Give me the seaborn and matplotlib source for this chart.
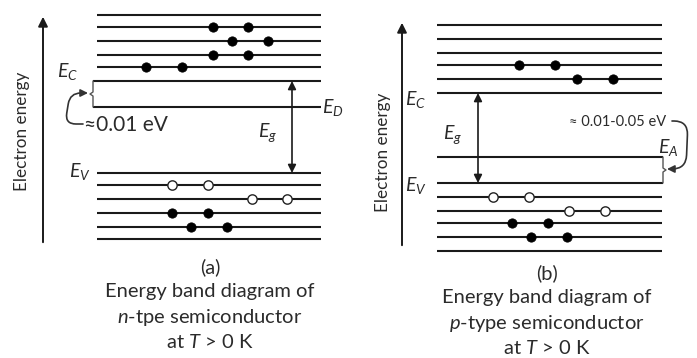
import matplotlib
matplotlib.use("Agg")
import matplotlib.pyplot as plt
import numpy as np
import pandas as pd
import seaborn as sns

# ---- data (diagram units = pixels of the 697x358 picture, y grows downward) ----
# panel (a): n-type
a_x0, a_x1 = 97, 321
a_cond_levels = [15, 27, 41, 55, 67]
a_ec, a_ed, a_ev = 81, 107, 173
a_val_levels = [185, 199, 213, 227, 239]
a_electrons_x = [213, 248, 232, 268, 213, 248, 146, 182, 172, 208, 191, 227]
a_electrons_y = [27, 27, 41, 41, 55, 55, 67, 67, 213, 213, 227, 227]
a_holes_x = [172, 208, 252, 287]
a_holes_y = [185, 185, 199, 199]

# panel (b): p-type
b_x0, b_x1 = 437, 662
b_cond_levels = [25, 39, 53, 65, 79]
b_ec, b_ea, b_ev = 93, 157, 183
b_val_levels = [197, 211, 223, 237, 251]
b_electrons_x = [519, 555, 577, 613, 512, 548, 531, 567]
b_electrons_y = [65, 65, 79, 79, 223, 223, 237, 237]
b_holes_x = [493, 529, 569, 605]
b_holes_y = [197, 197, 211, 211]

caption_a = ["(a)", "Energy band diagram of", "$\\it{n}$-tpe semiconductor", "at $\\it{T}$ > 0 K"]
caption_b = ["(b)", "Energy band diagram of", "$\\it{p}$-type semiconductor", "at $\\it{T}$ > 0 K"]

sns.set_theme(style="white")
plt.rcParams["font.family"] = ["Lato", "DejaVu Sans"]
plt.rcParams["mathtext.fontset"] = "custom"
plt.rcParams["mathtext.rm"] = "Lato"
plt.rcParams["mathtext.it"] = "Lato:italic"

LC = "#1a1a1a"
TC = "#2b2b2b"

fig = plt.figure(figsize=(6.97, 3.58), dpi=100)
ax = fig.add_axes([0, 0, 1, 1])
ax.set_xlim(0, 697)
ax.set_ylim(358, 0)
ax.axis("off")

lw = 1.5

# ---------- panel (a) ----------
ax.hlines(a_cond_levels + [a_ev] + a_val_levels, a_x0, a_x1, color=LC, lw=lw)
ax.hlines([a_ec, a_ed], 93, a_x1, color=LC, lw=lw)
# brace between Ec and Ed
ax.plot([93, 93, 90, 93, 93], [a_ec, 92, 94, 96, a_ed], color="#555555", lw=1.0)

dfa_e = pd.DataFrame({"x": a_electrons_x, "y": a_electrons_y})
dfa_h = pd.DataFrame({"x": a_holes_x, "y": a_holes_y})
sns.scatterplot(data=dfa_e, x="x", y="y", ax=ax, s=45, color="black", edgecolor="black", zorder=3)
sns.scatterplot(data=dfa_h, x="x", y="y", ax=ax, s=45, color="white", edgecolor="#222222", linewidth=1.0, zorder=3)

# energy axis
ax.annotate("", xy=(43, 14), xytext=(43, 245),
            arrowprops=dict(arrowstyle="-|>", color=LC, lw=1.4, mutation_scale=14))
ax.text(22, 131, "Electron energy", rotation=90, ha="center", va="center", fontsize=12.3, color=TC)

# band gap arrow
ax.annotate("", xy=(292, a_ec), xytext=(292, a_ev),
            arrowprops=dict(arrowstyle="<|-|>", color=LC, lw=1.2, mutation_scale=12, shrinkA=0, shrinkB=0))
ax.text(268, 133, "$E_g$", ha="center", va="center", fontsize=14, color=TC)
ax.text(68, 72, "$E_C$", ha="center", va="center", fontsize=14, color=TC)
ax.text(333, 108, "$E_D$", ha="center", va="center", fontsize=14, color=TC)
ax.text(80, 172, "$E_V$", ha="center", va="center", fontsize=14, color=TC)

# donor ionisation arrow
ax.annotate("", xy=(88, 93), xytext=(83, 124),
            arrowprops=dict(arrowstyle="-|>", color="#333333", lw=1.2, mutation_scale=11,
                            connectionstyle="arc,angleA=180,angleB=180,armA=18,armB=18,rad=11",
                            shrinkA=0, shrinkB=0))
ax.text(84, 125, "≈0.01 eV", ha="left", va="center", fontsize=15, color=TC)

for i, line in enumerate(caption_a):
    ax.text(210, [267, 292, 318, 342][i], line, ha="center", va="center", fontsize=14.5, color=TC)

# ---------- panel (b) ----------
ax.hlines(b_cond_levels + [b_ec] + b_val_levels, b_x0, b_x1, color=LC, lw=lw)
ax.hlines([b_ea, b_ev], b_x0, 663, color=LC, lw=lw)
# brace between Ea and Ev
ax.plot([663, 663, 666, 663, 663], [b_ea, 168, 170, 172, b_ev], color="#555555", lw=1.0)

dfb_e = pd.DataFrame({"x": b_electrons_x, "y": b_electrons_y})
dfb_h = pd.DataFrame({"x": b_holes_x, "y": b_holes_y})
sns.scatterplot(data=dfb_e, x="x", y="y", ax=ax, s=45, color="black", edgecolor="black", zorder=3)
sns.scatterplot(data=dfb_h, x="x", y="y", ax=ax, s=45, color="white", edgecolor="#222222", linewidth=1.0, zorder=3)

ax.annotate("", xy=(402, 20), xytext=(402, 248),
            arrowprops=dict(arrowstyle="-|>", color=LC, lw=1.4, mutation_scale=14))
ax.text(383, 152, "Electron energy", rotation=90, ha="center", va="center", fontsize=12.3, color=TC)

ax.annotate("", xy=(478, b_ec), xytext=(478, b_ev),
            arrowprops=dict(arrowstyle="<|-|>", color=LC, lw=1.2, mutation_scale=12, shrinkA=0, shrinkB=0))
ax.text(453, 135, "$E_g$", ha="center", va="center", fontsize=14, color=TC)
ax.text(416, 100, "$E_C$", ha="center", va="center", fontsize=14, color=TC)
ax.text(416, 186, "$E_V$", ha="center", va="center", fontsize=14, color=TC)
ax.text(668, 148, "$E_A$", ha="center", va="center", fontsize=14, color=TC)

ax.annotate("", xy=(667, 169), xytext=(672, 121),
            arrowprops=dict(arrowstyle="-|>", color="#333333", lw=1.2, mutation_scale=11,
                            connectionstyle="arc,angleA=0,angleB=0,armA=16,armB=19,rad=14",
                            shrinkA=0, shrinkB=0))
ax.text(666, 122, "≈ 0.01-0.05 eV", ha="right", va="center", fontsize=10.5, color=TC)

for i, line in enumerate(caption_b):
    ax.text(547, [273, 297, 323, 348][i], line, ha="center", va="center", fontsize=14.5, color=TC)

fig.savefig("out.png", dpi=100)
